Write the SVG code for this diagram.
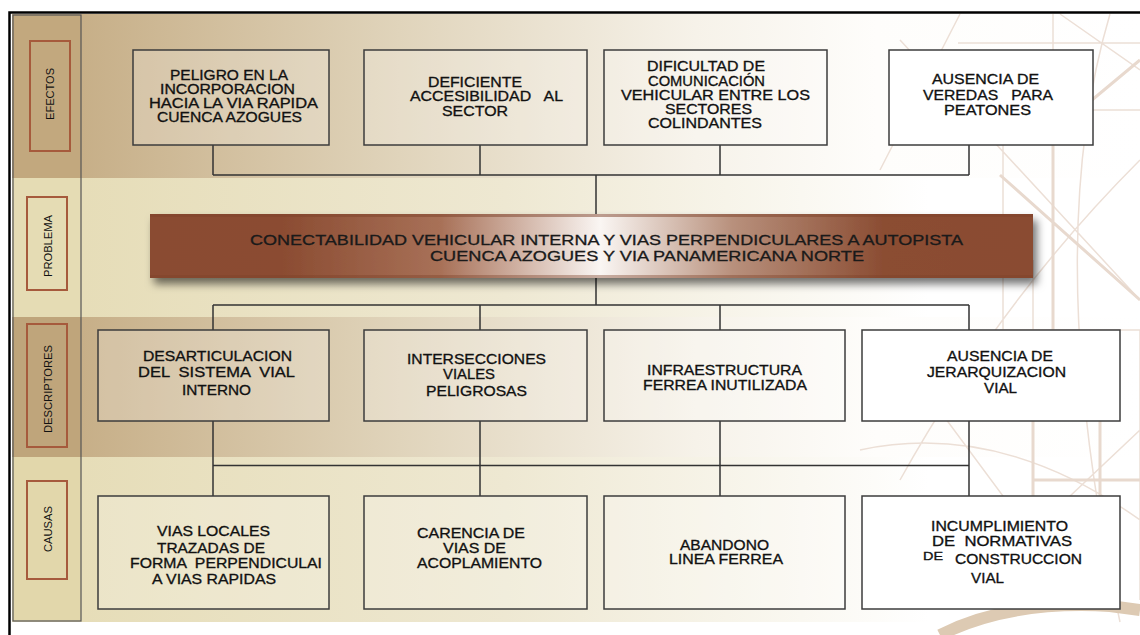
<svg xmlns="http://www.w3.org/2000/svg" width="1140" height="635" viewBox="0 0 1140 635">
<defs>
<linearGradient id="gDark" gradientUnits="userSpaceOnUse" x1="82" y1="0" x2="1140" y2="0">
<stop offset="0" stop-color="#c7af88"/>
<stop offset="0.3" stop-color="#e0d4bb"/>
<stop offset="0.58" stop-color="#f6f2e9"/>
<stop offset="0.75" stop-color="#fefdfb"/>
<stop offset="1" stop-color="#ffffff"/>
</linearGradient>
<linearGradient id="gLight" gradientUnits="userSpaceOnUse" x1="82" y1="0" x2="1140" y2="0">
<stop offset="0" stop-color="#e6ddb8"/>
<stop offset="0.4" stop-color="#eee8d2"/>
<stop offset="0.68" stop-color="#faf8f1"/>
<stop offset="0.8" stop-color="#ffffff"/>
<stop offset="1" stop-color="#ffffff"/>
</linearGradient>
<linearGradient id="gBar" x1="0" y1="0" x2="1" y2="0">
<stop offset="0" stop-color="#8a4b31"/>
<stop offset="0.15" stop-color="#8b4c32"/>
<stop offset="0.33" stop-color="#a87158"/>
<stop offset="0.51" stop-color="#faf6f3"/>
<stop offset="0.66" stop-color="#b8907c"/>
<stop offset="0.83" stop-color="#8b4d33"/>
<stop offset="1" stop-color="#8a4b31"/>
</linearGradient>
<filter id="sh" x="-5%" y="-30%" width="110%" height="170%">
<feDropShadow dx="4" dy="6" stdDeviation="4" flood-color="#000" flood-opacity="0.55"/>
</filter>
<style>
.box{stroke:#3c3c3c;stroke-width:1.5}
.tb{fill:#fff;fill-opacity:0.22}
.tw{fill:#fff}
.t{font-family:"Liberation Sans",Arial,sans-serif;font-size:13.8px;fill:#111;stroke:#111;stroke-width:0.3;text-anchor:middle;white-space:pre}
.pt{font-family:"Liberation Sans",Arial,sans-serif;font-size:14px;fill:#1a1a1a;stroke:#1a1a1a;stroke-width:0.3}
.lbl{fill:none;stroke:#a65a3c;stroke-width:2}
.lt{font-family:"Liberation Sans",Arial,sans-serif;font-size:11px;fill:#111;text-anchor:middle}
.con{fill:none;stroke:#333;stroke-width:1.5}
.deco{fill:none;stroke:#e8d9ce;stroke-width:3}
.deco2{fill:none;stroke:#ecdfd6;stroke-width:1.5}
</style>
</defs>

<!-- background panel bands -->
<rect x="12" y="14" width="1128" height="164" fill="url(#gDark)"/>
<rect x="12" y="178" width="1128" height="139" fill="url(#gLight)"/>
<rect x="12" y="317" width="1128" height="140" fill="url(#gDark)"/>
<rect x="12" y="457" width="1128" height="165" fill="url(#gLight)"/>

<!-- decorative architecture lines -->
<g id="decoration">
<path class="deco2" d="M958,43 H1140 M1003,110 H1140 M1003,110 V330 M900,40 L1140,300 M960,14 L880,170 M1053,14 V250 M1140,70 L1060,14 M1000,330 H1140 M1140,330 V600 M1033,260 V600 H960 M960,600 L1140,430 M880,330 L1080,600 M1140,160 Q1000,300 900,480 M860,450 Q1000,420 1140,520 M1110,14 Q1040,250 1120,622"/>
<path class="deco" d="M1053,110 V330 M1000,175 L1140,300 M1033,330 V600 M1100,330 V600 M1080,110 L1140,60 M1033,480 H1140"/>
<path d="M940,635 Q1010,600 1110,606 L1140,610" fill="none" stroke="#ddcab3" stroke-width="12"/>
</g>

<!-- outer frame -->
<path d="M9.5,635 V12.5 H1140" fill="none" stroke="#000" stroke-width="2.5"/>

<!-- left column -->
<g id="left-column">
<rect x="13" y="15" width="68" height="163" fill="#c2a87e"/>
<rect x="13" y="178" width="68" height="139" fill="#e5dcb4"/>
<rect x="13" y="317" width="68" height="140" fill="#bfa57b"/>
<rect x="13" y="457" width="68" height="164" fill="#e2d7ab"/>
<rect x="13" y="15" width="68" height="606" fill="none" stroke="#555" stroke-width="1.2"/>
</g>
<g id="label-efectos">
<rect class="lbl" x="30" y="41" width="40" height="110"/>
<text class="lt" transform="translate(53.5,94) rotate(-90)" textLength="52" lengthAdjust="spacingAndGlyphs">EFECTOS</text>
</g>
<g id="label-problema">
<rect class="lbl" x="27" y="197" width="40" height="93"/>
<text class="lt" transform="translate(51.5,246) rotate(-90)" textLength="62" lengthAdjust="spacingAndGlyphs">PROBLEMA</text>
</g>
<g id="label-descriptores">
<rect class="lbl" x="27" y="324" width="40" height="123"/>
<text class="lt" transform="translate(51.5,389) rotate(-90)" textLength="88" lengthAdjust="spacingAndGlyphs">DESCRIPTORES</text>
</g>
<g id="label-causas">
<rect class="lbl" x="27" y="481" width="40" height="98"/>
<text class="lt" transform="translate(51.5,529) rotate(-90)" textLength="46" lengthAdjust="spacingAndGlyphs">CAUSAS</text>
</g>

<!-- connectors -->
<g id="connectors">
<path class="con" d="M213,145 V175 M480,145 V175 M720,145 V175 M969,145 V175 M213,175 H969 M596,175 V214"/>
<path class="con" d="M596,278 V305 M213,305 H969 M213,305 V330 M480,305 V330 M720,305 V330 M969,305 V330"/>
<path class="con" d="M213,421 V496 M480,421 V496 M720,421 V496 M969,421 V496 M213,465.5 H969"/>
</g>

<!-- problem bar -->
<g id="problema">
<rect x="150" y="214" width="883" height="64" fill="url(#gBar)" filter="url(#sh)"/>
<rect x="150" y="214" width="883" height="3" fill="#7d4229" opacity="0.5"/>
<rect x="150" y="275" width="883" height="3" fill="#7d4229" opacity="0.4"/>
<text class="pt" x="250" y="244.5" textLength="713" lengthAdjust="spacingAndGlyphs">CONECTABILIDAD VEHICULAR INTERNA Y VIAS PERPENDICULARES A AUTOPISTA</text>
<text class="pt" x="430" y="260.5" textLength="434" lengthAdjust="spacingAndGlyphs">CUENCA AZOGUES Y VIA PANAMERICANA NORTE</text>
</g>

<!-- effects -->
<g id="efecto-1">
<rect class="box tb" x="133" y="50" width="196" height="95"/>
<text class="t" x="229" y="80" textLength="118" lengthAdjust="spacingAndGlyphs">PELIGRO EN LA</text>
<text class="t" x="227.5" y="94.3" textLength="135" lengthAdjust="spacingAndGlyphs">INCORPORACION</text>
<text class="t" x="233.5" y="108.3" textLength="169" lengthAdjust="spacingAndGlyphs">HACIA LA VIA RAPIDA</text>
<text class="t" x="229.5" y="122.3" textLength="145" lengthAdjust="spacingAndGlyphs">CUENCA AZOGUES</text>
</g>
<g id="efecto-2">
<rect class="box tb" x="364" y="50" width="223" height="95"/>
<text class="t" x="475" y="86.5" textLength="94" lengthAdjust="spacingAndGlyphs">DEFICIENTE</text>
<text class="t" x="486.5" y="101" textLength="153" lengthAdjust="spacingAndGlyphs" xml:space="preserve">ACCESIBILIDAD   AL</text>
<text class="t" x="475" y="115.5" textLength="66" lengthAdjust="spacingAndGlyphs">SECTOR</text>
</g>
<g id="efecto-3">
<rect class="box tb" x="604" y="50" width="223" height="95"/>
<text class="t" x="706" y="70.7" textLength="118" lengthAdjust="spacingAndGlyphs">DIFICULTAD DE</text>
<text class="t" x="706.5" y="85.7" textLength="117" lengthAdjust="spacingAndGlyphs">COMUNICACIÓN</text>
<text class="t" x="715.5" y="100" textLength="189" lengthAdjust="spacingAndGlyphs">VEHICULAR ENTRE LOS</text>
<text class="t" x="708.5" y="114.3" textLength="87" lengthAdjust="spacingAndGlyphs">SECTORES</text>
<text class="t" x="705" y="128.3" textLength="114" lengthAdjust="spacingAndGlyphs">COLINDANTES</text>
</g>
<g id="efecto-4">
<rect class="box tw" x="889" y="50" width="204" height="95"/>
<text class="t" x="985.5" y="84" textLength="107" lengthAdjust="spacingAndGlyphs">AUSENCIA DE</text>
<text class="t" x="988" y="99.5" textLength="130" lengthAdjust="spacingAndGlyphs" xml:space="preserve">VEREDAS   PARA</text>
<text class="t" x="987.5" y="115" textLength="87" lengthAdjust="spacingAndGlyphs">PEATONES</text>
</g>

<!-- descriptors -->
<g id="descriptor-1">
<rect class="box tb" x="98" y="330" width="231" height="91"/>
<text class="t" x="217.5" y="360.5" textLength="149" lengthAdjust="spacingAndGlyphs">DESARTICULACION</text>
<text class="t" x="216.5" y="377" textLength="157" lengthAdjust="spacingAndGlyphs" xml:space="preserve">DEL  SISTEMA  VIAL</text>
<text class="t" x="216.5" y="394.5" textLength="69" lengthAdjust="spacingAndGlyphs">INTERNO</text>
</g>
<g id="descriptor-2">
<rect class="box tb" x="364" y="330" width="223" height="91"/>
<text class="t" x="476.5" y="364" textLength="139" lengthAdjust="spacingAndGlyphs">INTERSECCIONES</text>
<text class="t" x="469" y="379" textLength="52" lengthAdjust="spacingAndGlyphs">VIALES</text>
<text class="t" x="476.5" y="395.5" textLength="101" lengthAdjust="spacingAndGlyphs">PELIGROSAS</text>
</g>
<g id="descriptor-3">
<rect class="box tb" x="604" y="330" width="241" height="91"/>
<text class="t" x="724.5" y="375" textLength="155" lengthAdjust="spacingAndGlyphs">INFRAESTRUCTURA</text>
<text class="t" x="725" y="390" textLength="164" lengthAdjust="spacingAndGlyphs">FERREA INUTILIZADA</text>
</g>
<g id="descriptor-4">
<rect class="box tw" x="862" y="330" width="258" height="91"/>
<text class="t" x="1000" y="360.5" textLength="106" lengthAdjust="spacingAndGlyphs">AUSENCIA DE</text>
<text class="t" x="996.5" y="377" textLength="139" lengthAdjust="spacingAndGlyphs">JERARQUIZACION</text>
<text class="t" x="1000.5" y="393.3" textLength="33" lengthAdjust="spacingAndGlyphs">VIAL</text>
</g>

<!-- causes -->
<g id="causa-1">
<rect class="box tb" x="98" y="496" width="231" height="113"/>
<text class="t" x="213.5" y="536" textLength="113" lengthAdjust="spacingAndGlyphs">VIAS LOCALES</text>
<text class="t" x="211" y="552.5" textLength="108" lengthAdjust="spacingAndGlyphs">TRAZADAS DE</text>
<text class="t" x="226" y="568" textLength="192" lengthAdjust="spacingAndGlyphs" xml:space="preserve">FORMA  PERPENDICULAI</text>
<text class="t" x="214" y="584" textLength="124" lengthAdjust="spacingAndGlyphs">A VIAS RAPIDAS</text>
</g>
<g id="causa-2">
<rect class="box tb" x="364" y="496" width="223" height="113"/>
<text class="t" x="471" y="538" textLength="108" lengthAdjust="spacingAndGlyphs">CARENCIA DE</text>
<text class="t" x="474.5" y="553" textLength="63" lengthAdjust="spacingAndGlyphs">VIAS DE</text>
<text class="t" x="479.5" y="568" textLength="125" lengthAdjust="spacingAndGlyphs">ACOPLAMIENTO</text>
</g>
<g id="causa-3">
<rect class="box tb" x="604" y="496" width="241" height="113"/>
<text class="t" x="724.5" y="550" textLength="89" lengthAdjust="spacingAndGlyphs">ABANDONO</text>
<text class="t" x="726" y="563.5" textLength="114" lengthAdjust="spacingAndGlyphs">LINEA FERREA</text>
</g>
<g id="causa-4">
<rect class="box tw" x="862" y="496" width="258" height="113"/>
<text class="t" x="999.5" y="531" textLength="137" lengthAdjust="spacingAndGlyphs">INCUMPLIMIENTO</text>
<text class="t" x="1002" y="546" textLength="140" lengthAdjust="spacingAndGlyphs" xml:space="preserve">DE  NORMATIVAS</text>
<text class="t" x="933" y="560" style="font-size:10.5px" textLength="20" lengthAdjust="spacingAndGlyphs">DE</text>
<text class="t" x="1018.5" y="564" textLength="127" lengthAdjust="spacingAndGlyphs">CONSTRUCCION</text>
<text class="t" x="987.5" y="583.3" textLength="33" lengthAdjust="spacingAndGlyphs">VIAL</text>
</g>
</svg>
